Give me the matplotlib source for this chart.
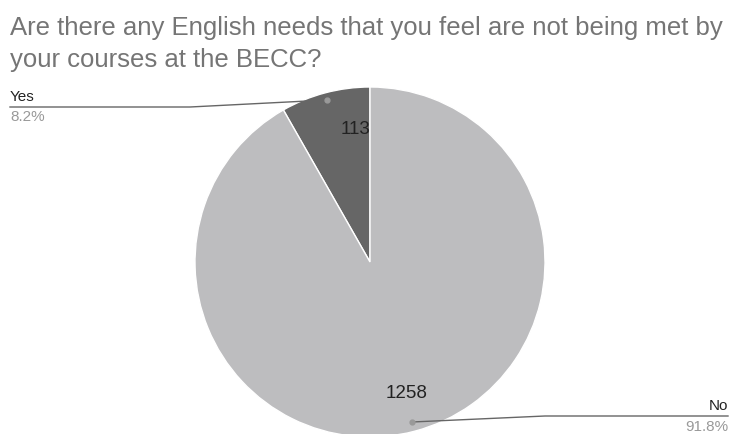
import matplotlib.pyplot as plt

plt.rcParams['font.family'] = ['Liberation Sans', 'DejaVu Sans']

labels = ['Yes', 'No']
counts = [113, 1258]
colors = ['#666666', '#bdbdbf']

W, H = 732, 434
fig = plt.figure(figsize=(W / 100, H / 100), dpi=100)
ax = fig.add_axes([0, 0, 1, 1])

cx, cy, r = 370, H - 262, 175
ax.pie(counts, colors=colors, startangle=90, counterclock=True,
       center=(cx, cy), radius=r, frame=True,
       wedgeprops=dict(edgecolor='white', linewidth=1))
ax.set_xlim(0, W)
ax.set_ylim(0, H)
ax.set_aspect('equal')
ax.axis('off')

total = sum(counts)
pcts = [c / total * 100 for c in counts]

# title
fig.text(10 / W, 1 - 28 / H, 'Are there any English needs that you feel are not being met by',
         fontsize=18.5, color='#757575', va='center', ha='left')
fig.text(10 / W, 1 - 60 / H, 'your courses at the BECC?',
         fontsize=18.5, color='#757575', va='center', ha='left')

# values inside slices
ax.text(355, H - 130, str(counts[0]), fontsize=13.5, color='#222222', ha='center', va='center')
ax.text(407, H - 393, str(counts[1]), fontsize=13.5, color='#222222', ha='center', va='center')

# leader lines
line_kw = dict(color='#666666', linewidth=1)
ax.plot([10, 190, 327], [H - 107, H - 107, H - 100], **line_kw)
ax.plot([327], [H - 100], 'o', color='#999999', markersize=3.5)
ax.text(10, H - 97, labels[0], fontsize=11, color='#222222', ha='left', va='center')
ax.text(10, H - 117, f'{pcts[0]:.1f}%', fontsize=11, color='#999999', ha='left', va='center')

ax.plot([728, 545, 412], [H - 416, H - 416, H - 422], **line_kw)
ax.plot([412], [H - 422], 'o', color='#999999', markersize=3.5)
ax.text(728, H - 406, labels[1], fontsize=11, color='#222222', ha='right', va='center')
ax.text(728, H - 427, f'{pcts[1]:.1f}%', fontsize=11, color='#999999', ha='right', va='center')

fig.savefig('out.png', dpi=100, facecolor='white')
